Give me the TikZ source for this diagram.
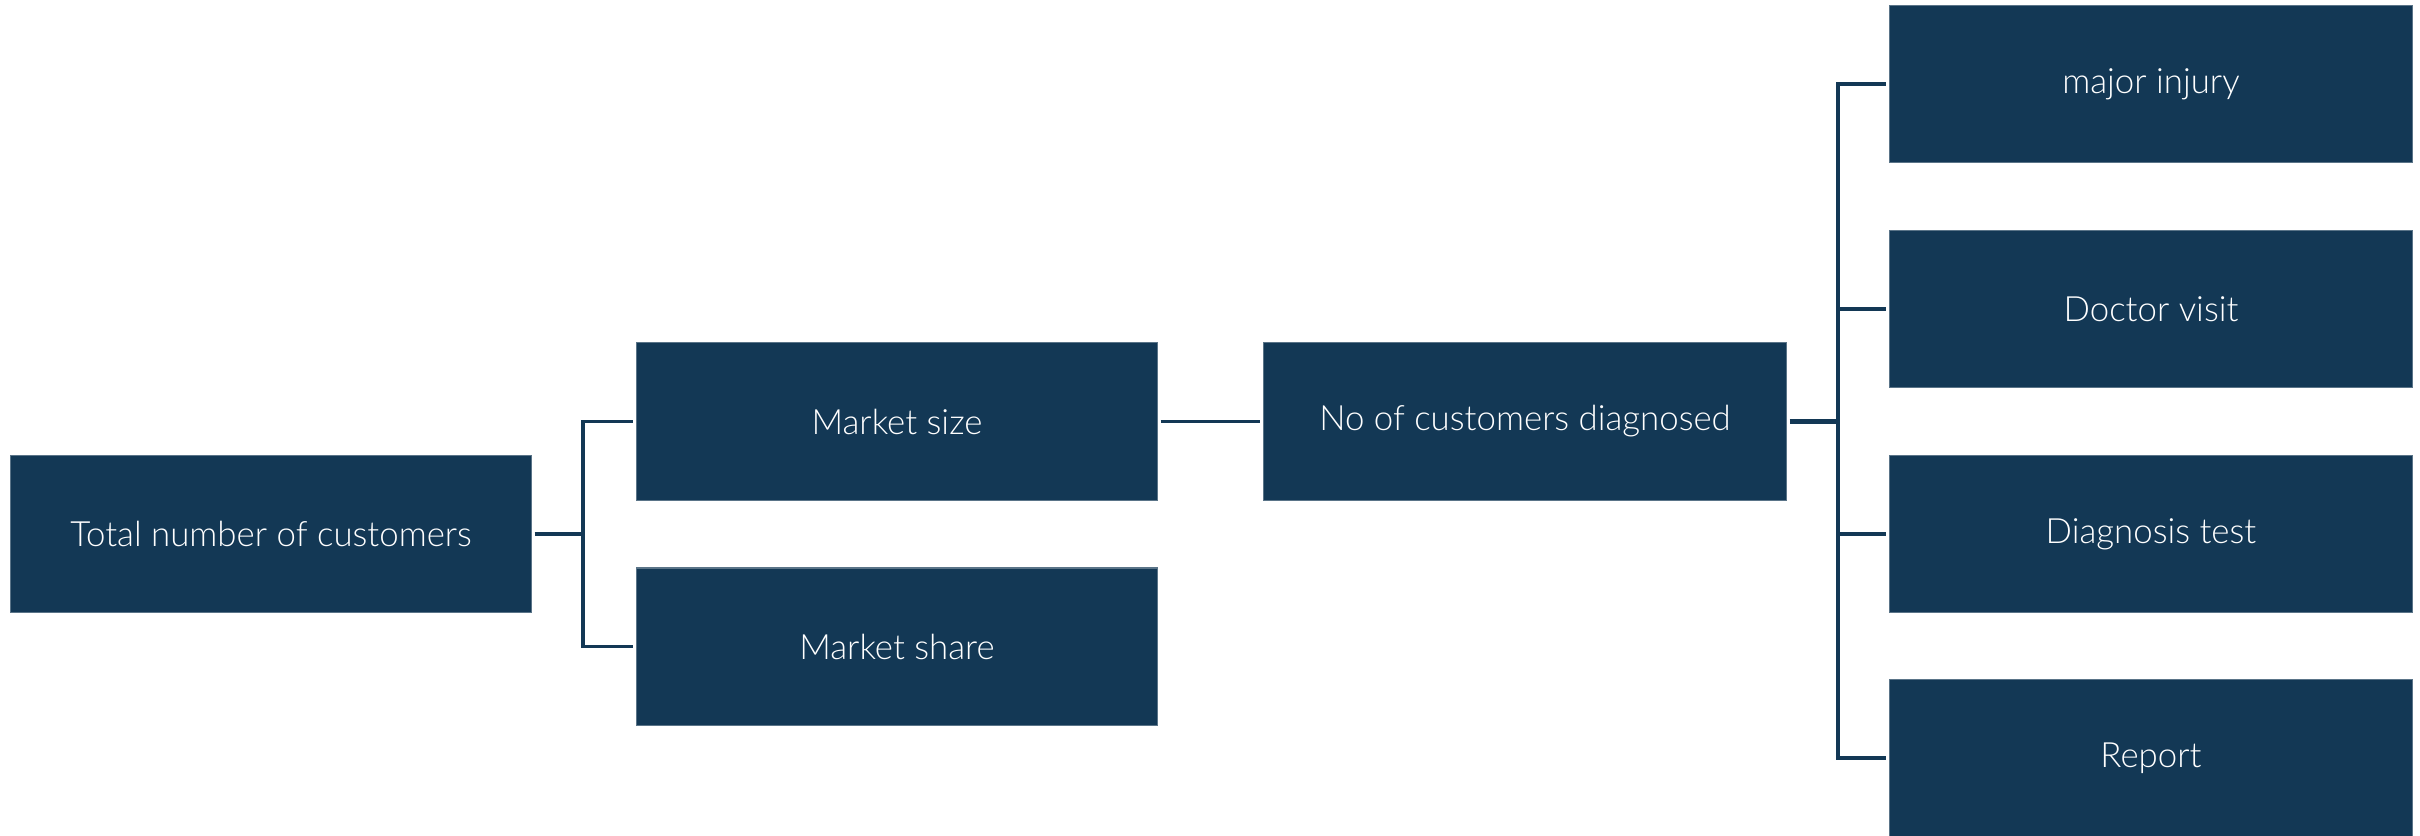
\documentclass[tikz,border=0pt]{standalone}
\usepackage{fontspec}
\setmainfont{Lato}[UprightFont=* Light]
\usepackage{tikz}
\usetikzlibrary{positioning}
\definecolor{navy}{RGB}{19,56,85}

\begin{document}
\begin{tikzpicture}[x=.01cm,y=-.01cm,font=\fontsize{9.9}{12}\selectfont,
box/.style={fill=navy,draw=navy!70!white,line width=.3pt,text=white,minimum width=5.2cm,minimum height=1.57cm,inner sep=0pt},
conn/.style={draw=navy,line width=.9pt,shorten <=.03cm,shorten >=.03cm}]
\useasboundingbox (0,0) rectangle (2420,835);

\node[box] (total) at(271,534){Total number of customers};
\node[box] (msize) at(897,421.5){Market size};
\node[box] (mshare) at(897,646.5){Market share};
\node[box,minimum width=5.22cm] (diag) at(1525,421.5){No of customers diagnosed};
\node[box,minimum width=5.22cm] (injury) at(2151,84){major injury};
\node[box,minimum width=5.22cm] (doctor) at(2151,309){Doctor visit};
\node[box,minimum width=5.22cm] (test) at(2151,534){Diagnosis test};
\node[box,minimum width=5.22cm] (report) at(2151,758){Report};

\coordinate (b1) at(583,534);
\coordinate (b2) at(1838,421.5);
\draw[conn,shorten >=0pt](total.east)--(b1);
\draw[conn,shorten <=0pt](b1)|-(msize.west);
\draw[conn,shorten <=0pt](b1)|-(mshare.west);
\draw[conn](msize.east)--(diag.west);
\draw[conn,shorten >=0pt,line width=1.3pt](diag.east)--(b2);
\foreach \n in {injury,doctor,test,report}
  \draw[conn,shorten <=0pt](b2)|-(\n.west);
\end{tikzpicture}
\end{document}
